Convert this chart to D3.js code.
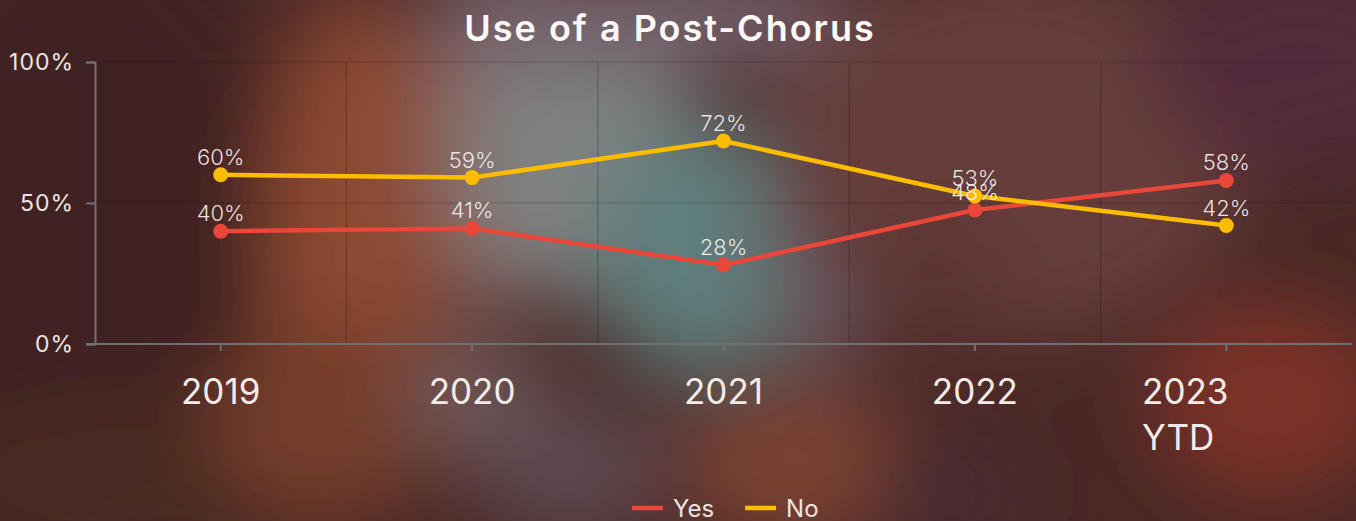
<!DOCTYPE html>
<html>
<head>
<meta charset="utf-8">
<script src="https://cdn.jsdelivr.net/npm/d3@7"></script>
<style>
  html, body { margin: 0; padding: 0; background: #4a2826; }
  svg { display: block; }
</style>
</head>
<body>
<svg id="chart"></svg>
<script>
// chart values
const years = ["2019", "2020", "2021", "2022", "2023 YTD"]
const yesValues = [40, 41, 28, 47.5, 58]
const noValues = [60, 59, 72, 52.5, 42]
const yTicks = [0, 50, 100]
const seriesNames = ["Yes", "No"]
const seriesColors = ["#e8473a", "#fcbd00"]

const width = 1356, height = 521
const svg = d3.select("#chart").attr("width", width).attr("height", height)

// blurred photo-like backdrop
const defs = svg.append("defs")
defs.append("filter").attr("id", "blur")
    .attr("x", "-50%").attr("y", "-50%").attr("width", "200%").attr("height", "200%")
  .append("feGaussianBlur").attr("stdDeviation", 40)
svg.append("rect").attr("width", width).attr("height", height).attr("fill", "#4a2826")
const blobs = [
  [80, 260, 220, 340, "#3f2220"],
  [150, 480, 220, 80, "#4a2a22"],
  [360, 230, 95, 240, "#8c4833"],
  [330, 420, 120, 100, "#743d2b"],
  [500, 130, 70, 180, "#866e6c"],
  [480, 400, 70, 60, "#6e5a5c"],
  [590, 160, 110, 140, "#7f8281"],
  [700, 250, 110, 130, "#5e7e7d"],
  [640, 15, 220, 55, "#72606a"],
  [820, 200, 55, 180, "#6b5860"],
  [570, 470, 100, 70, "#5d4850"],
  [800, 465, 120, 80, "#7a4230"],
  [1010, 150, 240, 190, "#663c3a"],
  [930, 280, 80, 70, "#5c3430"],
  [1300, 60, 150, 110, "#522c3a"],
  [1270, 400, 120, 100, "#7a3028"],
  [950, 490, 80, 60, "#4a2c30"]
]
svg.append("g").attr("filter", "url(#blur)")
  .selectAll("ellipse").data(blobs).join("ellipse")
    .attr("cx", d => d[0]).attr("cy", d => d[1])
    .attr("rx", d => d[2]).attr("ry", d => d[3])
    .attr("fill", d => d[4])

// scales
const x = d3.scaleBand().domain(years).range([95, 1352]).padding(0)
const y = d3.scaleLinear().domain([0, 100]).range([344, 62])
const cx = d => x(d) + x.bandwidth() / 2

// grid
const grid = svg.append("g")
grid.selectAll(".vg").data(years.slice(1)).join("line")
    .attr("x1", d => x(d)).attr("x2", d => x(d))
    .attr("y1", y(100)).attr("y2", y(0))
    .attr("stroke", "rgba(20,10,10,0.25)").attr("stroke-width", 1.2)
grid.selectAll(".hg").data(yTicks.filter(t => t > 0)).join("line")
    .attr("x1", 95).attr("x2", 1352)
    .attr("y1", d => y(d)).attr("y2", d => y(d))
    .attr("stroke", "rgba(20,10,10,0.2)").attr("stroke-width", 1.2)

// y axis
const yAxis = svg.append("g").attr("transform", "translate(95,0)")
  .call(d3.axisLeft(y).tickValues(yTicks).tickFormat(d => d + "%").tickSize(9).tickPadding(12))
yAxis.select(".domain").attr("stroke", "#6f6f74").attr("stroke-width", 2)
yAxis.selectAll(".tick line").attr("stroke", "#6f6f74").attr("stroke-width", 2)
yAxis.selectAll(".tick text").attr("fill", "#ece4e0")
  .style("font-family", "Inter, sans-serif").style("font-size", "23px").attr("letter-spacing", 1)

// x axis
const xAxis = svg.append("g").attr("transform", "translate(0,344)")
  .call(d3.axisBottom(x).tickSize(7).tickFormat(""))
xAxis.select(".domain").attr("d", "M86,0H1352").attr("stroke", "#6f6f74").attr("stroke-width", 2)
xAxis.selectAll(".tick line").attr("stroke", "#6f6f74").attr("stroke-width", 2)

// x labels: wrapped words, left-aligned from where a single line would start
const xl = svg.append("g").style("font-family", "Inter, sans-serif").style("font-size", "35px")
  .attr("fill", "#f2ece8")
years.forEach(label => {
  const t = xl.append("text").text(label)
  const w = t.node().getComputedTextLength()
  t.text(null)
  const left = cx(label) - w / 2
  label.split(" ").forEach((word, i) => {
    t.append("tspan").attr("x", left).attr("y", 404 + i * 46).text(word)
  })
})

// lines, points, labels
const line = d3.line().x((d, i) => cx(years[i])).y(d => y(d))
const series = [yesValues, noValues]
series.forEach((vals, s) => {
  svg.append("path").datum(vals).attr("d", line)
    .attr("fill", "none").attr("stroke", seriesColors[s]).attr("stroke-width", 4.5)
    .attr("stroke-linejoin", "round")
  svg.append("g").selectAll("circle").data(vals).join("circle")
    .attr("cx", (d, i) => cx(years[i])).attr("cy", d => y(d)).attr("r", 7.5)
    .attr("fill", seriesColors[s])
})
series.forEach((vals, s) => {
  svg.append("g").selectAll("text").data(vals).join("text")
    .attr("x", (d, i) => cx(years[i])).attr("y", d => y(d) - 10)
    .attr("text-anchor", "middle")
    .style("font-family", "Inter, sans-serif").style("font-size", "22px").style("font-weight", 300)
    .attr("fill", "rgba(242,238,238,0.94)")
    .text(d => Math.round(d) + "%")
})

// title
svg.append("text").attr("x", 670).attr("y", 41).attr("text-anchor", "middle")
  .style("font-family", "Inter, sans-serif").style("font-size", "36px").style("font-weight", 600)
  .attr("fill", "#fbf8f6").attr("letter-spacing", 2)
  .text("Use of a Post-Chorus")

// legend
const legend = svg.append("g").style("font-family", "Inter, sans-serif").style("font-size", "24px")
let lx = 632
seriesNames.forEach((name, i) => {
  legend.append("line").attr("x1", lx).attr("x2", lx + 31).attr("y1", 508).attr("y2", 508)
    .attr("stroke", seriesColors[i]).attr("stroke-width", 4.5)
  const t = legend.append("text").attr("x", lx + 41).attr("y", 517)
    .attr("fill", "#ece4e0").text(name)
  lx += 41 + t.node().getComputedTextLength() + 31
})
</script>
</body>
</html>
